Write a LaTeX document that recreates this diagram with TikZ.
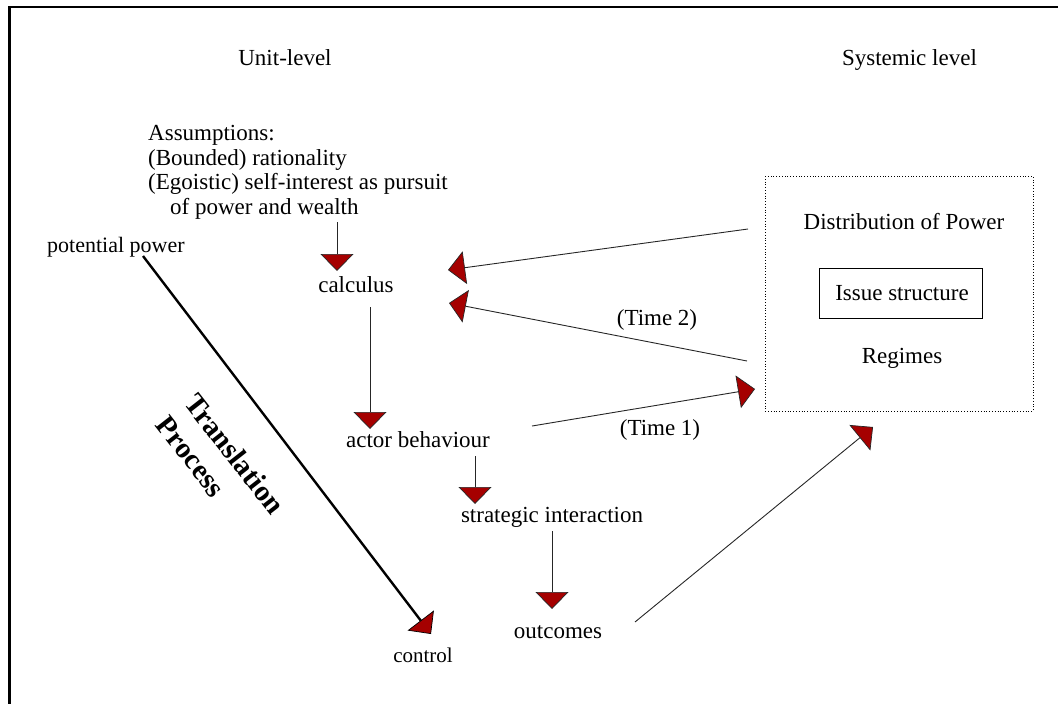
\documentclass[tikz,border=0pt]{standalone}
\usepackage{fontspec}
\setmainfont{Liberation Serif}
\usetikzlibrary{arrows.meta}
\definecolor{arrowred}{RGB}{165,0,0}
\tikzset{
  txt/.style={inner sep=0pt, font=\fontsize{23}{24.5}\selectfont, anchor=base},
  smalltxt/.style={inner sep=0pt, font=\fontsize{21}{24}\selectfont, anchor=base},
  flow/.style={draw=black!85, line width=0.9pt,
    -{Triangle[width=33pt,length=17pt,fill=arrowred,line width=0.7pt]}},
  translate/.style={draw=black, line width=2.4pt,
    -{Triangle[width=33pt,length=17pt,fill=arrowred,line width=0.7pt]}},
}
\begin{document}
\begin{tikzpicture}[x=1pt,y=-1pt]
\useasboundingbox (0,0) rectangle (1058,704);

% outer frame (only top and left edges fall inside the page)
\draw[line width=2.6pt] (9.3,704) -- (9.3,7) -- (1058,7);

% column headings
\node[txt] (unit) at (285,65) {Unit-level};
\node[txt] (sys) at (909.5,65) {Systemic level};

% assumptions block
\node[txt, anchor=north west, align=left] (assume) at (148,125.5)
  {Assumptions:\\(Bounded) rationality\\(Egoistic) self-interest as pursuit\\\hspace*{22pt}of power and wealth};

% unit-level chain
\node[txt] (calc) at (356,292) {calculus};
\node[txt] (actor) at (418,447) {actor behaviour};
\node[txt] (strat) at (552,522) {strategic interaction};
\node[txt] (out) at (558,638) {outcomes};
\node[smalltxt, anchor=base west, font=\fontsize{22}{24}\selectfont] (pot) at (47,252.5) {potential power};
\node[smalltxt] (ctrl) at (423,662) {control};

% systemic box
\draw[dotted, line width=0.8pt] (765,176) rectangle (1033,411);
\node[txt] (dist) at (904,229) {Distribution of Power};
\node[draw, line width=0.9pt, minimum width=163pt, minimum height=50pt,
      inner sep=0pt, font=\fontsize{23}{24.5}\selectfont] (issue) at (900.5,293) {\hspace*{3pt}Issue structure};
\node[txt] (reg) at (902,363) {Regimes};

% time labels
\node[txt] (t2) at (657,325) {(Time 2)};
\node[txt] (t1) at (660,435) {(Time 1)};

% translation process label
\node[inner sep=0pt, anchor=north west, align=left, rotate=-52,
      font=\fontsize{29}{36}\bfseries\selectfont] (trans) at (199,391)
  {Translation\\Process};

% connector end points
\coordinate (aS) at (337,222);  \coordinate (aE) at (337,271);
\coordinate (cS) at (370,307);  \coordinate (cE) at (370,429);
\coordinate (bS) at (475,456);  \coordinate (bE) at (475,504);
\coordinate (sS) at (552,531);  \coordinate (sE) at (552,609);
\coordinate (d1S) at (748,229); \coordinate (d1E) at (448,270);
\coordinate (d2S) at (747,361); \coordinate (d2E) at (449,303);
\coordinate (t1S) at (532,426); \coordinate (t1E) at (755,389);
\coordinate (oS) at (635,622);  \coordinate (oE) at (873,427);
\coordinate (pS) at (143,256);  \coordinate (pE) at (431,634);

% connectors
\draw[flow] (aS) -- (aE);
\draw[flow] (cS) -- (cE);
\draw[flow] (bS) -- (bE);
\draw[flow] (sS) -- (sE);
\draw[flow] (d1S) -- (d1E);
\draw[flow] (d2S) -- (d2E);
\draw[flow] (t1S) -- (t1E);
\draw[flow] (oS) -- (oE);
\draw[translate] (pS) -- (pE);
\end{tikzpicture}
\end{document}
